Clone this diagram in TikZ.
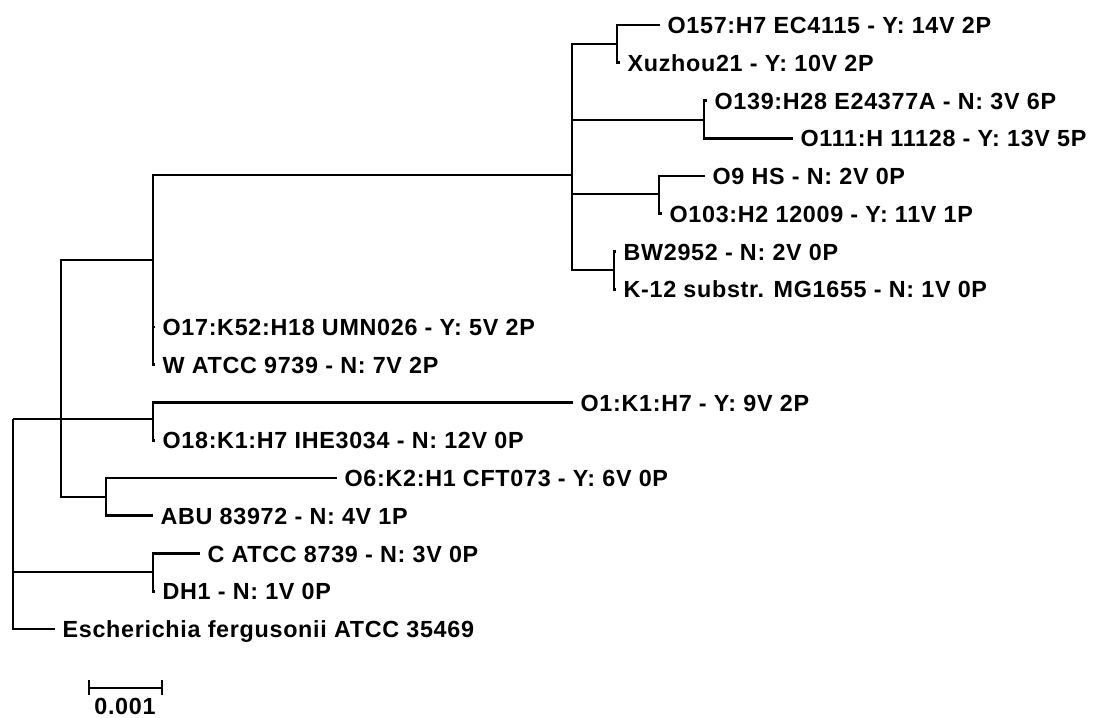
\documentclass[tikz,border=0pt]{standalone}
\usepackage{fontspec}
\setmainfont{Liberation Sans}[LetterSpace=3]

\begin{document}
\begin{tikzpicture}[
  x=0.75pt,y=-0.75pt,
  branch/.style={line width=1.9pt},
  taxon/.style={anchor=base west,inner sep=0pt,xshift=5.5pt,yshift=-6.4pt},
  every node/.style={font=\bfseries\fontsize{17.5}{20}\selectfont}
]
\useasboundingbox (0,0) rectangle (1112,717);

\coordinate (root) at (13,419);
\coordinate (nA) at (61,419);
\coordinate (nB) at (153,260);
\coordinate (nC) at (572,175);
\coordinate (nD) at (617,44);
\coordinate (nE) at (704,120);
\coordinate (nF) at (659,194);
\coordinate (nG) at (614,270);
\coordinate (nH) at (153,419);
\coordinate (nI) at (106,497);
\coordinate (nJ) at (153,572);

\coordinate (tO157) at (660,25);
\coordinate (tXuz) at (620,62.75);
\coordinate (tO139) at (707,100.5);
\coordinate (tO111) at (793,138.25);
\coordinate (tO9) at (705,176);
\coordinate (tO103) at (662,213.75);
\coordinate (tBW) at (616,251.5);
\coordinate (tK12) at (616,289.25);
\coordinate (tO17) at (155,327);
\coordinate (tW) at (155,364.75);
\coordinate (tO1) at (573,402.5);
\coordinate (tO18) at (155,440.25);
\coordinate (tO6) at (337,478);
\coordinate (tABU) at (153,515.75);
\coordinate (tC) at (200,553.5);
\coordinate (tDH1) at (155,591.25);
\coordinate (tFerg) at (55,629);

\draw[branch] (root) |- (nA);
\draw[branch] (root) |- (nJ);
\draw[branch] (root) |- (tFerg);
\draw[branch] (nA) |- (nB);
\draw[branch] (nA) |- (nH);
\draw[branch] (nA) |- (nI);
\draw[branch] (nB) |- (nC);
\draw[branch] (nB) |- (tO17);
\draw[branch] (nB) |- (tW);
\draw[branch] (nC) |- (nD);
\draw[branch] (nC) |- (nE);
\draw[branch] (nC) |- (nF);
\draw[branch] (nC) |- (nG);
\draw[branch] (nD) |- (tO157);
\draw[branch] (nD) |- (tXuz);
\draw[branch] (nE) |- (tO139);
\draw[branch] (nE) |- (tO111);
\draw[branch] (nF) |- (tO9);
\draw[branch] (nF) |- (tO103);
\draw[branch] (nG) |- (tBW);
\draw[branch] (nG) |- (tK12);
\draw[branch] (nH) |- (tO1);
\draw[branch] (nH) |- (tO18);
\draw[branch] (nI) |- (tO6);
\draw[branch] (nI) |- (tABU);
\draw[branch] (nJ) |- (tC);
\draw[branch] (nJ) |- (tDH1);

\node[taxon] (lO157) at (tO157) {O157:H7 EC4115 - Y: 14V 2P};
\node[taxon] (lXuz) at (tXuz) {Xuzhou21 - Y: 10V 2P};
\node[taxon] (lO139) at (tO139) {O139:H28 E24377A - N: 3V 6P};
\node[taxon] (lO111) at (tO111) {O111:H 11128 - Y: 13V 5P};
\node[taxon] (lO9) at (tO9) {O9 HS - N: 2V 0P};
\node[taxon] (lO103) at (tO103) {O103:H2 12009 - Y: 11V 1P};
\node[taxon] (lBW) at (tBW) {BW2952 - N: 2V 0P};
\node[taxon] (lK12) at (tK12) {K-12 substr. MG1655 - N: 1V 0P};
\node[taxon] (lO17) at (tO17) {O17:K52:H18 UMN026 - Y: 5V 2P};
\node[taxon] (lW) at (tW) {W ATCC 9739 - N: 7V 2P};
\node[taxon] (lO1) at (tO1) {O1:K1:H7 - Y: 9V 2P};
\node[taxon] (lO18) at (tO18) {O18:K1:H7 IHE3034 - N: 12V 0P};
\node[taxon] (lO6) at (tO6) {O6:K2:H1 CFT073 - Y: 6V 0P};
\node[taxon] (lABU) at (tABU) {ABU 83972 - N: 4V 1P};
\node[taxon] (lC) at (tC) {C ATCC 8739 - N: 3V 0P};
\node[taxon] (lDH1) at (tDH1) {DH1 - N: 1V 0P};
\node[taxon] (lFerg) at (tFerg) {Escherichia fergusonii ATCC 35469};

\coordinate (sbL) at (89,688);
\coordinate (sbR) at (162,688);
\draw[branch] (sbL) -- (sbR)
  (sbL) ++(0,-8) -- ++(0,15)
  (sbR) ++(0,-8) -- ++(0,15);
\node[inner sep=0pt] (sbT) at (125,706) {0.001};
\end{tikzpicture}
\end{document}
